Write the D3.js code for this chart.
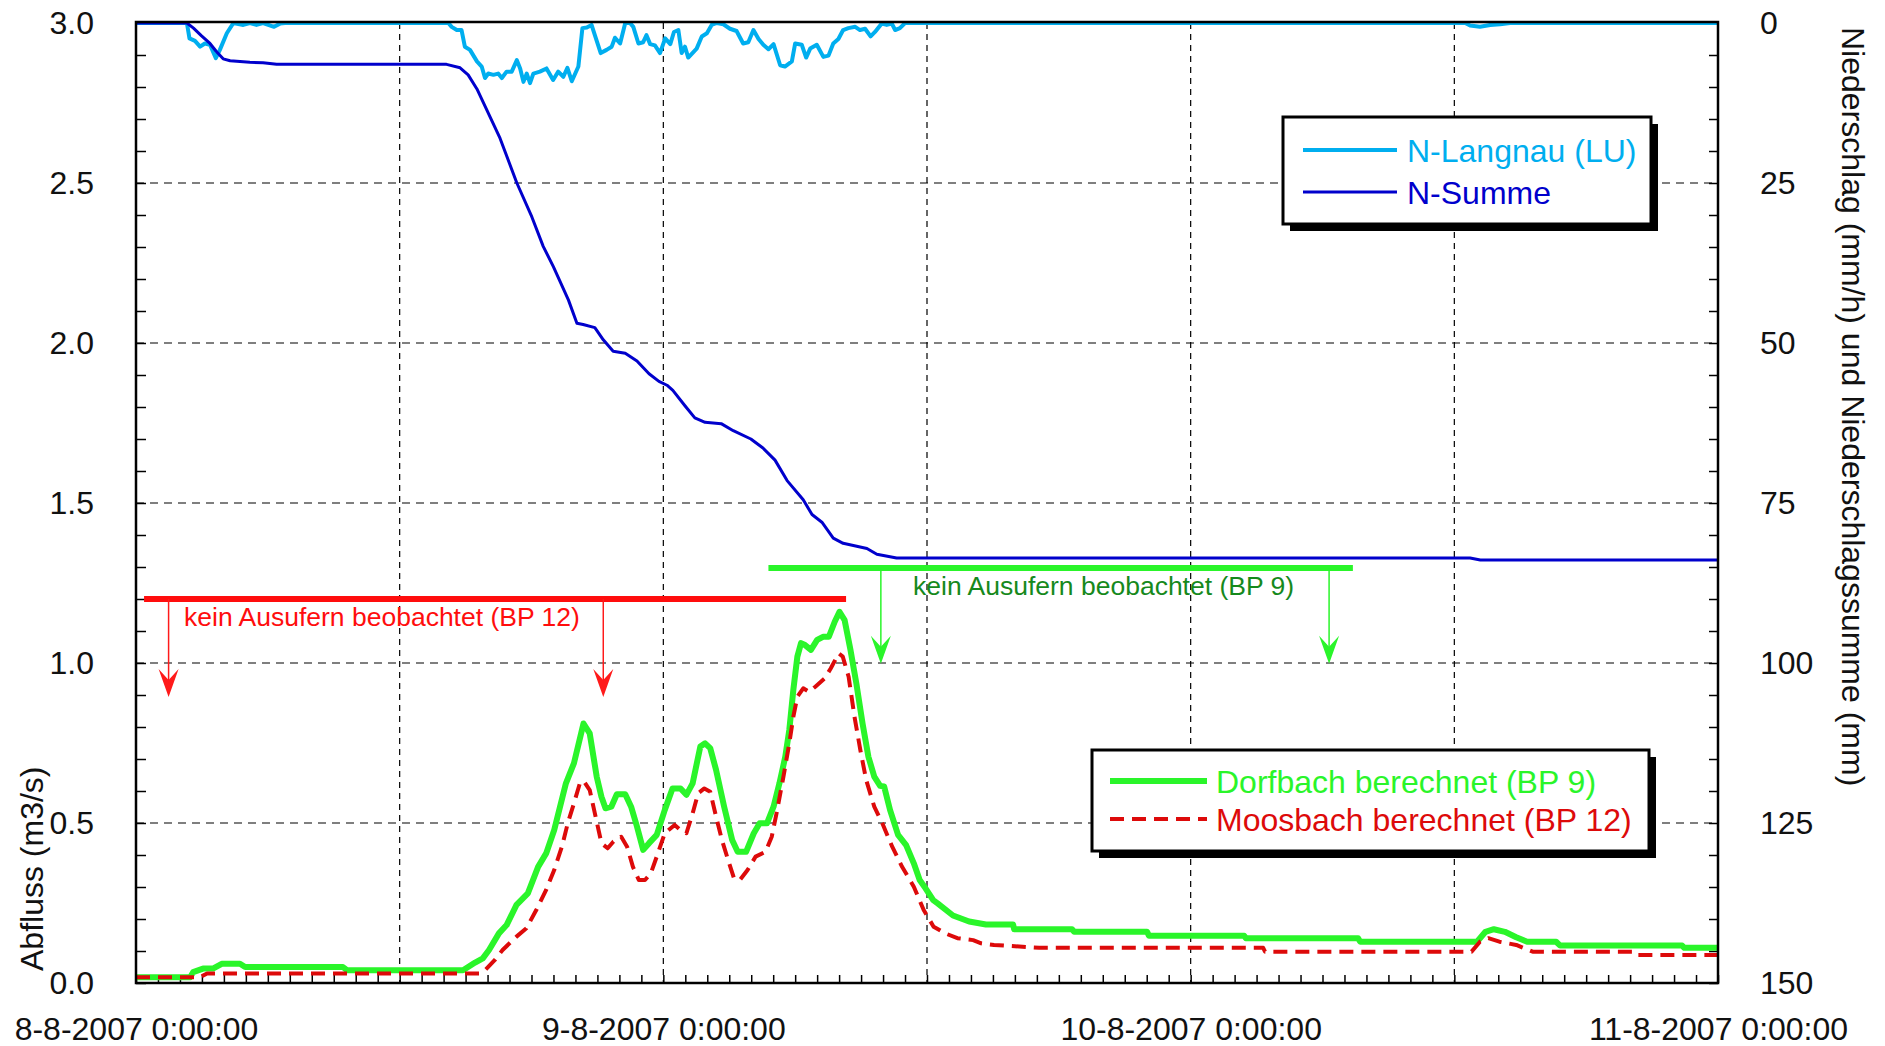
<!DOCTYPE html>
<html>
<head>
<meta charset="utf-8">
<script src="https://cdn.jsdelivr.net/npm/d3@7"></script>
<style>
  body { margin: 0; background: #fff; }
  svg { display: block; font-family: "Liberation Sans", Arial, Helvetica, sans-serif; }
</style>
</head>
<body>
<svg width="1885" height="1046"></svg>
<script>
// hours after 8-8-2007 0:00, value
const nLangnau = [
  [0, 0], [2.31, 0], [2.43, 2.4], [2.69, 2.8], [2.91, 3.7], [3.14, 3.2], [3.37, 3.4], [3.64, 5.5],
  [3.82, 4.2], [4.13, 1.6], [4.43, 0], [4.88, 0.3], [5.19, 0], [5.49, 0.3], [5.79, 0], [6.28, 0.6],
  [6.55, 0.1], [6.78, 0], [14.21, 0], [14.37, 0.6], [14.6, 1.1], [14.82, 1.1], [14.97, 3.7], [15.2, 4.2],
  [15.51, 6.0], [15.74, 6.8], [15.89, 8.6], [16.04, 7.9], [16.26, 8.1], [16.49, 7.9], [16.65, 8.6],
  [16.87, 7.6], [17.1, 7.6], [17.33, 5.8], [17.48, 7.1], [17.63, 9.2], [17.78, 7.9], [17.93, 9.4],
  [18.08, 7.9], [18.39, 7.6], [18.69, 7.1], [18.99, 8.9], [19.22, 7.6], [19.45, 8.4], [19.63, 7.0],
  [19.83, 9.1], [20.13, 6.8], [20.31, 0.8], [20.51, 0.7], [20.74, 0.3], [20.89, 1.9], [21.15, 4.7],
  [21.42, 4.2], [21.65, 3.7], [21.8, 2.3], [22.03, 3.2], [22.26, 0], [22.49, 0], [22.64, 0.6],
  [22.86, 3.2], [23.09, 3.0], [23.24, 1.9], [23.4, 3.3], [23.62, 3.5], [23.85, 4.7], [24.08, 2.4],
  [24.31, 3.3], [24.49, 1.4], [24.68, 1.1], [24.84, 4.7], [24.99, 3.7], [25.14, 5.4], [25.52, 4.0],
  [25.75, 2.1], [25.98, 1.6], [26.2, 0.3], [26.43, 0], [26.73, 0.2], [27.04, 0.9], [27.34, 1.25],
  [27.64, 3.2], [27.87, 3.0], [28.1, 1.1], [28.33, 2.5], [28.55, 3.4], [28.78, 4.1], [29.01, 3.3],
  [29.31, 6.6], [29.54, 6.8], [29.85, 6.0], [30.0, 3.2], [30.3, 3.4], [30.5, 5.4], [30.68, 4.0],
  [30.98, 3.4], [31.28, 5.3], [31.51, 5.1], [31.74, 3.2], [31.97, 2.5], [32.19, 1.1], [32.42, 0.8],
  [32.73, 0.6], [32.95, 1.1], [33.18, 0.9], [33.44, 2.1], [33.64, 1.4], [33.94, 0.1], [34.17, 0.3],
  [34.4, 0.1], [34.55, 1.1], [34.77, 0.8], [35.0, 0], [60.5, 0], [60.72, 0.4], [61.17, 0.6],
  [61.63, 0.3], [62.08, 0.2], [62.54, 0], [72, 0]
];

const nSumme = [
  [0, 0], [2.31, 0], [2.61, 0.8], [2.99, 2.0], [3.37, 3.2], [3.67, 4.5], [3.97, 5.6], [4.28, 5.9],
  [5.19, 6.15], [5.78, 6.2], [6.4, 6.46], [14.14, 6.46], [14.75, 7.0], [15.12, 8.1], [15.51, 10.3],
  [16.57, 18.0], [17.33, 25.0], [18.01, 30.3], [18.54, 34.9], [19.0, 38.1], [19.68, 43.3],
  [20.07, 46.9], [20.35, 47.1], [20.89, 47.6], [21.26, 49.5], [21.71, 51.3], [22.26, 51.6],
  [22.8, 52.8], [23.35, 54.8], [23.8, 56.0], [24.17, 56.6], [24.44, 57.4], [24.99, 59.8],
  [25.44, 61.7], [25.9, 62.4], [26.63, 62.6], [27.18, 63.7], [27.99, 65.0], [28.54, 66.4],
  [29.09, 68.3], [29.63, 71.5], [30.36, 74.5], [30.77, 76.8], [31.21, 78.0], [31.73, 80.5],
  [32.18, 81.3], [33.26, 82.1], [33.71, 83.0], [34.62, 83.6], [60.72, 83.6], [61.18, 83.9], [72, 83.9]
];

const dorfbach = [
  [0, 0.018], [2.46, 0.018], [2.6, 0.034], [3.05, 0.045], [3.5, 0.045], [3.9, 0.06], [4.73, 0.06],
  [4.96, 0.05], [9.42, 0.05], [9.6, 0.04], [14.88, 0.04], [15.43, 0.064], [15.79, 0.077],
  [16.07, 0.103], [16.52, 0.155], [16.86, 0.181], [17.31, 0.244], [17.84, 0.28], [18.3, 0.363],
  [18.66, 0.405], [19.03, 0.478], [19.57, 0.624], [19.94, 0.687], [20.37, 0.811], [20.65, 0.78],
  [20.97, 0.645], [21.18, 0.582], [21.37, 0.546], [21.63, 0.551], [21.89, 0.59], [22.26, 0.59],
  [22.53, 0.551], [22.8, 0.489], [23.08, 0.416], [23.35, 0.437], [23.7, 0.463], [24.06, 0.541],
  [24.42, 0.608], [24.78, 0.608], [25.05, 0.588], [25.33, 0.624], [25.68, 0.739], [25.9, 0.749],
  [26.13, 0.734], [26.4, 0.666], [26.76, 0.551], [27.13, 0.447], [27.39, 0.41], [27.76, 0.41],
  [28.12, 0.468], [28.38, 0.499], [28.71, 0.499], [29.01, 0.551], [29.29, 0.624], [29.55, 0.707],
  [29.74, 0.791], [29.91, 0.916], [30.1, 1.02], [30.27, 1.062], [30.45, 1.056], [30.72, 1.041],
  [31.0, 1.072], [31.27, 1.082], [31.53, 1.082], [31.8, 1.129], [32.02, 1.16], [32.25, 1.134],
  [32.52, 1.041], [32.79, 0.937], [33.06, 0.811], [33.33, 0.707], [33.6, 0.645], [33.87, 0.616],
  [34.05, 0.614], [34.32, 0.541], [34.68, 0.463], [35.05, 0.431], [35.4, 0.374], [35.66, 0.322],
  [35.94, 0.296], [36.28, 0.259], [36.48, 0.249], [37.19, 0.211], [37.91, 0.192], [38.69, 0.183],
  [39.92, 0.183], [39.96, 0.168], [42.6, 0.168], [42.7, 0.16], [46.02, 0.16], [46.1, 0.148],
  [50.43, 0.148], [50.52, 0.14], [55.62, 0.14], [55.71, 0.129], [61.04, 0.129], [61.42, 0.16],
  [61.8, 0.168], [62.3, 0.16], [62.81, 0.143], [63.31, 0.129], [64.63, 0.129], [64.82, 0.117],
  [70.37, 0.117], [70.46, 0.11], [72, 0.11]
];

const moosbach = [
  [0, 0.018], [2.91, 0.018], [3.23, 0.03], [15.61, 0.03], [15.88, 0.04], [16.33, 0.072],
  [16.69, 0.103], [17.31, 0.145], [17.77, 0.171], [18.22, 0.228], [18.66, 0.291], [19.03, 0.353],
  [19.39, 0.426], [19.65, 0.499], [19.93, 0.562], [20.2, 0.624], [20.37, 0.632], [20.65, 0.603],
  [20.91, 0.52], [21.18, 0.437], [21.46, 0.421], [21.73, 0.442], [22.08, 0.457], [22.35, 0.426],
  [22.62, 0.363], [22.89, 0.322], [23.17, 0.322], [23.44, 0.343], [23.7, 0.395], [24.06, 0.468],
  [24.52, 0.494], [24.78, 0.478], [25.05, 0.468], [25.33, 0.53], [25.59, 0.593], [25.86, 0.608],
  [26.13, 0.598], [26.4, 0.52], [26.67, 0.447], [26.95, 0.384], [27.21, 0.327], [27.48, 0.322],
  [27.84, 0.353], [28.2, 0.395], [28.65, 0.41], [28.93, 0.457], [29.19, 0.541], [29.46, 0.645],
  [29.74, 0.749], [29.91, 0.832], [30.1, 0.895], [30.36, 0.921], [30.63, 0.91], [30.91, 0.926],
  [31.35, 0.952], [31.62, 0.983], [31.98, 1.03], [32.16, 1.02], [32.43, 0.957], [32.7, 0.832],
  [32.97, 0.728], [33.24, 0.634], [33.6, 0.551], [33.96, 0.499], [34.41, 0.426], [34.87, 0.363],
  [35.4, 0.301], [35.85, 0.228], [36.3, 0.176], [36.84, 0.155], [37.38, 0.14], [38.1, 0.134],
  [38.46, 0.124], [39.05, 0.119], [41.1, 0.11], [51.3, 0.11], [51.39, 0.098], [60.79, 0.098],
  [61.17, 0.129], [61.55, 0.14], [62.05, 0.129], [62.81, 0.119], [63.57, 0.098], [68.18, 0.098],
  [68.32, 0.0875], [72, 0.0875]
];

// "kein Ausufern beobachtet" markers: bar [from h, to h, level], arrows at h, arrow tip level
const bp12Bar = [0.36, 32.32, 1.2];
const bp12Arrows = [1.49, 21.27];
const bp12ArrowTip = 0.894;
const bp9Bar = [28.78, 55.38, 1.297];
const bp9Arrows = [33.9, 54.3];
const bp9ArrowTip = 0.998;

const leftTicks = [0, 0.5, 1.0, 1.5, 2.0, 2.5, 3.0];
const rightTicks = [0, 25, 50, 75, 100, 125, 150];
const dayTicks = [0, 24, 48, 72];
const gridHours = [12, 24, 36, 48, 60];

const svg = d3.select('svg');
const pL = 136, pR = 1718, pT = 23, pB = 983;

const start = new Date(2007, 7, 8);
const T = h => d3.timeMinute.offset(start, Math.round(h * 60));

const x = d3.scaleTime().domain([start, T(72)]).range([pL, pR]);
const yL = d3.scaleLinear().domain([0, 3]).range([pB, pT]);
const yR = d3.scaleLinear().domain([0, 150]).range([pT, pB]);

const colCyan = '#00aeef', colBlue = '#0000cc', colGreen = '#2af52a', colRed = '#dd0a0a';

svg.append('clipPath').attr('id', 'plot')
  .append('rect').attr('x', pL - 2).attr('y', pT).attr('width', pR - pL + 6).attr('height', pB - pT);

// grid
const grid = svg.append('g').attr('stroke', '#000').attr('stroke-width', 1.2);
grid.selectAll('.h').data(leftTicks.slice(1, -1)).join('line')
  .attr('x1', pL).attr('x2', pR)
  .attr('y1', d => yL(d)).attr('y2', d => yL(d))
  .attr('stroke-dasharray', '8,6');
grid.selectAll('.v').data(gridHours).join('line')
  .attr('x1', d => x(T(d))).attr('x2', d => x(T(d)))
  .attr('y1', pT).attr('y2', pB)
  .attr('stroke-dasharray', '6,5');

// minor ticks
const minorL = svg.append('g').attr('transform', `translate(${pL},0)`)
  .call(d3.axisRight(yL).tickValues(d3.range(0, 3.001, 0.1)).tickSize(10).tickFormat(''));
const minorR = svg.append('g').attr('transform', `translate(${pR},0)`)
  .call(d3.axisLeft(yR).tickValues(d3.range(0, 150.1, 5)).tickSize(9).tickFormat(''));
const minorX = svg.append('g').attr('transform', `translate(0,${pB})`)
  .call(d3.axisTop(x).ticks(d3.timeHour.every(1)).tickSize(8).tickFormat(''));
[minorL, minorR, minorX].forEach(g => {
  g.select('.domain').remove();
  g.selectAll('line').attr('stroke-width', 1.5);
});

// tick labels
const labL = svg.append('g').attr('transform', `translate(${pL},0)`)
  .call(d3.axisLeft(yL).tickValues(leftTicks).tickSize(0).tickPadding(42).tickFormat(d3.format('.1f')));
const labR = svg.append('g').attr('transform', `translate(${pR},0)`)
  .call(d3.axisRight(yR).tickValues(rightTicks).tickSize(0).tickPadding(42));
const labX = svg.append('g').attr('transform', `translate(0,${pB})`)
  .call(d3.axisBottom(x).tickValues(dayTicks.map(T)).tickSize(0).tickPadding(34)
    .tickFormat(d => `${d.getDate()}-${d.getMonth() + 1}-${d.getFullYear()} 0:00:00`));
[labL, labR, labX].forEach(g => {
  g.select('.domain').remove();
  g.selectAll('text').attr('font-size', 32).attr('fill', '#111')
    .attr('font-family', '"Liberation Sans", Arial, Helvetica, sans-serif');
});

// axis titles
svg.append('text').attr('transform', 'translate(43,971) rotate(-90)')
  .attr('font-size', 32).attr('fill', '#111').text('Abfluss (m3/s)');
svg.append('text').attr('transform', 'translate(1842,27) rotate(90)')
  .attr('font-size', 32).attr('fill', '#111').text('Niederschlag (mm/h) und Niederschlagssumme (mm)');

// precipitation lines
const lineR = d3.line().x(d => x(T(d[0]))).y(d => yR(d[1]));
const lineL = d3.line().x(d => x(T(d[0]))).y(d => yL(d[1]));

svg.append('path').datum(nLangnau).attr('d', lineR).attr('clip-path', 'url(#plot)')
  .attr('fill', 'none').attr('stroke', colCyan).attr('stroke-width', 4).attr('stroke-linejoin', 'round');
svg.append('path').datum(nSumme).attr('d', lineR)
  .attr('fill', 'none').attr('stroke', colBlue).attr('stroke-width', 3).attr('stroke-linejoin', 'round');

// discharge lines
svg.append('path').datum(dorfbach).attr('d', lineL)
  .attr('fill', 'none').attr('stroke', colGreen).attr('stroke-width', 6).attr('stroke-linejoin', 'round');
svg.append('path').datum(moosbach).attr('d', lineL)
  .attr('fill', 'none').attr('stroke', colRed).attr('stroke-width', 4)
  .attr('stroke-dasharray', '14,8').attr('stroke-linejoin', 'round');

// frame
svg.append('rect').attr('x', pL).attr('y', pT - 1).attr('width', pR - pL).attr('height', pB - pT + 1)
  .attr('fill', 'none').attr('stroke', '#000').attr('stroke-width', 2.5);

// annotations
function marker(bar, arrows, tip, barCol, arrowCol, label, labelCol, lx, ly) {
  const g = svg.append('g');
  g.append('line')
    .attr('x1', x(T(bar[0]))).attr('x2', x(T(bar[1])))
    .attr('y1', yL(bar[2])).attr('y2', yL(bar[2]))
    .attr('stroke', barCol).attr('stroke-width', 6);
  arrows.forEach(h => {
    const ax = x(T(h)), ty = yL(tip);
    g.append('line').attr('x1', ax).attr('x2', ax).attr('y1', yL(bar[2])).attr('y2', ty - 12)
      .attr('stroke', arrowCol).attr('stroke-width', 1.5);
    g.append('path')
      .attr('d', `M${ax},${ty} L${ax - 10},${ty - 28} L${ax},${ty - 17} L${ax + 10},${ty - 28} Z`)
      .attr('fill', arrowCol);
  });
  g.append('text').attr('x', lx).attr('y', ly).attr('font-size', 26.5)
    .attr('fill', labelCol).text(label);
}
marker(bp12Bar, bp12Arrows, bp12ArrowTip, '#ff0d0d', '#ff1a1a',
  'kein Ausufern beobachtet (BP 12)', '#ff0d0d', 184, 626);
marker(bp9Bar, bp9Arrows, bp9ArrowTip, colGreen, colGreen,
  'kein Ausufern beobachtet (BP 9)', '#16891c', 913, 595);

// legends
function legend(bx, by, bw, bh, items) {
  const g = svg.append('g');
  g.append('rect').attr('x', bx + 7).attr('y', by + 7).attr('width', bw).attr('height', bh).attr('fill', '#000');
  g.append('rect').attr('x', bx).attr('y', by).attr('width', bw).attr('height', bh)
    .attr('fill', '#fff').attr('stroke', '#000').attr('stroke-width', 3);
  items.forEach(it => {
    g.append('line').attr('x1', it.x1).attr('x2', it.x2).attr('y1', it.y).attr('y2', it.y)
      .attr('stroke', it.color).attr('stroke-width', it.width)
      .attr('stroke-dasharray', it.dash || null);
    g.append('text').attr('x', it.tx).attr('y', it.y + 12).attr('font-size', 32)
      .attr('fill', it.color).text(it.label);
  });
}
legend(1283, 117, 368, 107, [
  { label: 'N-Langnau (LU)', color: colCyan, width: 4, x1: 1303, x2: 1397, tx: 1407, y: 150 },
  { label: 'N-Summe', color: colBlue, width: 3, x1: 1303, x2: 1397, tx: 1407, y: 192 }
]);
legend(1092, 750, 557, 101, [
  { label: 'Dorfbach berechnet (BP 9)', color: colGreen, width: 6, x1: 1110, x2: 1207, tx: 1216, y: 781 },
  { label: 'Moosbach berechnet (BP 12)', color: colRed, width: 4, dash: '14,8', x1: 1110, x2: 1207, tx: 1216, y: 819 }
]);
</script>
</body>
</html>
